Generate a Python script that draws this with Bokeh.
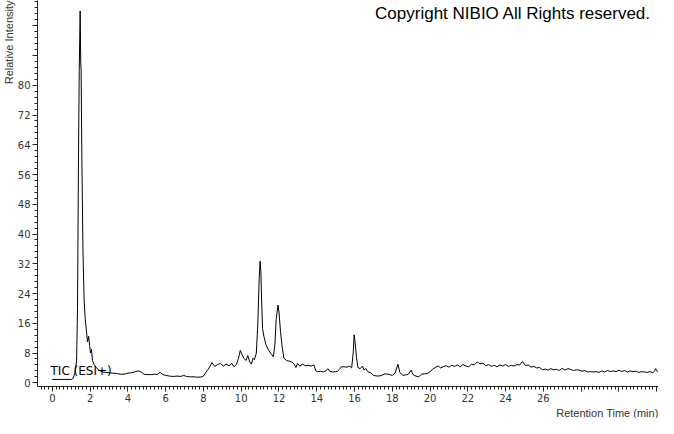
import numpy as np
from bokeh.plotting import figure
from bokeh.models import FixedTicker, Label, ColumnDataSource, Title
from bokeh.embed import file_html
from bokeh.resources import INLINE

# Retention time (min) and relative intensity
time = [0.0, 0.5, 1.0, 1.1, 1.2, 1.28, 1.33, 1.38, 1.42, 1.47, 1.50, 1.52, 1.56, 1.62, 1.68,
        1.74, 1.80, 1.86, 1.92, 1.97, 2.02, 2.07, 2.12, 2.2, 2.3, 2.45, 2.6, 2.8, 3.0, 3.2,
        3.4, 3.6, 3.8, 4.0, 4.2, 4.4, 4.55, 4.7, 4.85, 5.0, 5.2, 5.4, 5.55, 5.7, 5.85,
        6.0, 6.2, 6.4, 6.6, 6.8, 6.95, 7.1, 7.3, 7.5, 7.7, 7.9, 8.0, 8.1, 8.2, 8.3,
        8.45, 8.6, 8.75, 8.9, 9.05, 9.2, 9.35, 9.5, 9.62, 9.75, 9.85, 9.95, 10.05, 10.14, 10.25,
        10.35, 10.45, 10.54, 10.62, 10.7, 10.8, 10.88, 10.95, 11.0, 11.04, 11.08, 11.13, 11.2, 11.3,
        11.45, 11.6, 11.7, 11.78, 11.85, 11.95, 12.0, 12.08, 12.17, 12.26, 12.4, 12.55, 12.7, 12.8,
        12.9, 12.98, 13.1, 13.25, 13.4, 13.55, 13.7, 13.85, 13.95, 14.05, 14.2, 14.35, 14.5, 14.6,
        14.7, 14.85, 15.0, 15.1, 15.2, 15.3, 15.45, 15.6, 15.75, 15.85, 15.93, 15.98, 16.03, 16.1,
        16.18, 16.3, 16.42, 16.5, 16.6, 16.7, 16.85, 17.0, 17.2, 17.4, 17.6, 17.8, 18.0, 18.15,
        18.3, 18.4, 18.55, 18.7, 18.85, 19.0, 19.1, 19.25, 19.4, 19.55, 19.7, 19.85, 20.0, 20.15,
        20.3, 20.45, 20.55, 20.7, 20.85, 21.0, 21.15, 21.3, 21.45, 21.6, 21.75, 21.9, 22.05, 22.2,
        22.35, 22.5, 22.65, 22.8, 22.95, 23.1, 23.25, 23.4, 23.55, 23.7, 23.85, 24.0, 24.15, 24.3,
        24.45, 24.6, 24.75, 24.9, 25.05, 25.2, 25.35, 25.5, 25.65, 25.8, 25.95, 26.1, 26.25, 26.4,
        26.55, 26.7, 26.85, 27.0, 27.15, 27.3, 27.45, 27.6, 27.75, 27.9, 28.05, 28.2, 28.35, 28.5,
        28.65, 28.8, 28.95, 29.1, 29.25, 29.4, 29.55, 29.7, 29.85, 30.0, 30.15, 30.3, 30.45, 30.6,
        30.75, 30.9, 31.05, 31.2, 31.35, 31.5, 31.65, 31.8, 31.9, 31.95, 32.0, 32.05]
intensity = [0.9, 0.9, 0.9, 1.2, 2.8, 6, 20, 60, 84, 100, 86, 84, 60, 35, 22,
             17, 14, 11, 12.5, 10, 8, 9, 6, 5, 4.2, 3.5, 3, 2.8, 2.7, 2.6,
             2.5, 2.3, 2.3, 2.6, 2.7, 3.0, 3.2, 2.9, 2.3, 2.2, 2.2, 2.3, 2.2, 2.8, 2.2,
             2.0, 1.8, 1.7, 1.8, 1.7, 2.0, 1.7, 1.6, 1.6, 1.5, 1.6, 1.8, 2.6, 3.3, 4.0,
             5.4, 4.4, 4.9, 5.2, 4.5, 5.0, 4.6, 5.2, 4.3, 5.0, 6.5, 8.7, 7.5, 6.6, 6.0,
             7.3, 5.6, 5.0, 6.6, 6.2, 8, 16, 28, 32.7, 30, 22, 14.6, 12.5, 10.4,
             8.7, 7.7, 7.0, 10, 17, 20.9, 19, 13.8, 9.6, 6.6, 6.0, 5.8, 5.5, 5.0,
             4.1, 5.2, 4.5, 5.0, 4.6, 4.7, 4.5, 4.8, 3.2, 3.0, 3.1, 2.9, 3.3, 3.8,
             3.0, 2.9, 3.0, 3.1, 3.6, 4.3, 4.3, 4.2, 4.5, 4.0, 8, 12.9, 11, 7,
             4.1, 3.8, 4.5, 3.5, 3.8, 3.0, 2.7, 2.0, 1.8, 1.9, 2.4, 2.3, 2.0, 2.6,
             5.0, 2.8, 2.0, 2.1, 2.3, 3.4, 2.2, 1.8, 1.6, 2.3, 2.4, 2.5, 3.0, 3.7,
             4.2, 4.5, 4.0, 4.3, 4.6, 4.2, 4.7, 4.4, 4.8, 4.3, 4.9, 4.5, 4.3, 5.0,
             4.8, 5.6, 5.1, 5.3, 4.6, 4.9, 4.4, 4.7, 4.3, 4.8, 4.5, 4.9, 4.4, 4.7,
             4.5, 4.9, 4.8, 5.7, 4.6, 4.8, 4.2, 4.4, 4.0, 4.1, 3.5, 3.7, 3.4, 3.8,
             3.5, 3.6, 3.3, 3.9, 3.4, 3.8, 3.6, 3.3, 3.5, 3.4, 3.1, 3.3, 2.9, 3.0,
             2.9, 3.0, 2.8, 3.2, 2.9, 3.3, 3.0, 3.2, 3.0, 3.4, 3.0, 3.3, 2.9, 3.2,
             3.0, 3.1, 2.8, 3.0, 2.9, 2.8, 3.0, 2.7, 3.2, 3.8, 3.3, 2.9]

x_major = list(range(0, 33, 2))
x_labels = {t: ("" if t >= 28 else str(t)) for t in x_major}
y_major = list(range(0, 97, 8))
y_labels = {t: ("" if t > 80 else str(t)) for t in y_major}

p = figure(width=658, height=418, output_backend="svg", toolbar_location=None,
           x_range=(-0.79, 32.1), y_range=(-1, 102.8),
           min_border_left=0, min_border_right=0, min_border_top=0, min_border_bottom=0)
p.outline_line_color = None
p.grid.visible = False
p.background_fill_color = "white"
p.border_fill_color = "white"

src = ColumnDataSource(dict(t=time, i=intensity))
p.line("t", "i", source=src, line_color="black", line_width=1)

xminor = [round(-0.8 + 0.2 * k, 2) for k in range(0, 166)]
p.xaxis.ticker = FixedTicker(ticks=x_major, minor_ticks=xminor)
p.xaxis.major_label_overrides = x_labels
yminor = [round(1.6 * k, 2) for k in range(0, 65)]
p.yaxis.ticker = FixedTicker(ticks=y_major, minor_ticks=yminor)
p.yaxis.major_label_overrides = y_labels

for ax in (p.xaxis, p.yaxis):
    ax.axis_line_color = "#222222"
    ax.major_tick_line_color = "#222222"
    ax.minor_tick_line_color = "#222222"
    ax.major_tick_out = 5
    ax.major_tick_in = 0
    ax.minor_tick_out = 3
    ax.minor_tick_in = 0
    ax.major_label_text_font = "DejaVu Sans"
    ax.major_label_text_font_size = "10px"
    ax.major_label_text_color = "#333333"
    ax.major_label_standoff = 2

p.add_layout(Title(text="Relative Intensity", align="right", standoff=0,
                   text_font="Liberation Sans", text_font_size="11px",
                   text_font_style="normal", text_color="#333333"), "left")
p.add_layout(Title(text="Retention Time (min)", align="right", standoff=0,
                   text_font="Liberation Sans", text_font_size="11px",
                   text_font_style="normal", text_color="#333333"), "below")

p.add_layout(Label(x=31.7, y=99.2, text="Copyright NIBIO All Rights reserved.",
                   text_font="Liberation Sans", text_font_size="17px", text_color="black",
                   text_align="right", text_baseline="middle"))
p.add_layout(Label(x=-0.1, y=3.3, text="TIC (ESI+)", text_font="DejaVu Sans",
                   text_font_size="12px", text_color="black", text_align="left",
                   text_baseline="middle"))

open("out.html", "w").write(file_html(p, INLINE))
